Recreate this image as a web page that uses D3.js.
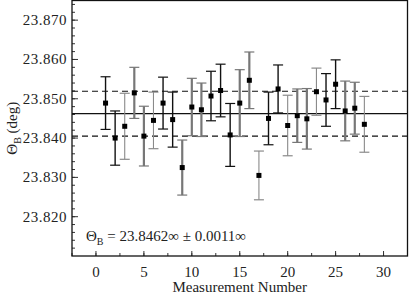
<!DOCTYPE html>
<html>
<head>
<meta charset="utf-8">
<script src="https://cdn.jsdelivr.net/npm/d3@7"></script>
<style>
  body { margin: 0; background: #fff; }
  svg { display: block; }
</style>
</head>
<body>
<div id="visu"></div>
<script>
var measurements = [1, 2, 3, 4, 5, 6, 7, 8, 9, 10, 11, 12, 13, 14, 15, 16, 17, 18, 19, 20, 21, 22, 23, 24, 25, 26, 27, 28];
var angles = [23.8489, 23.8400, 23.8430, 23.8515, 23.8405, 23.8445, 23.8489, 23.8447, 23.8325, 23.8479,
              23.8472, 23.8507, 23.8521, 23.8408, 23.8489, 23.8547, 23.8305, 23.8450, 23.8525, 23.8432,
              23.8457, 23.8449, 23.8518, 23.8497, 23.8537, 23.8469, 23.8476, 23.8435];
var errors = [0.0067, 0.0069, 0.0084, 0.0065, 0.0076, 0.0072, 0.0066, 0.0070, 0.0070, 0.0073,
              0.0068, 0.0063, 0.0067, 0.0080, 0.0085, 0.0072, 0.0062, 0.0067, 0.0061, 0.0077,
              0.0068, 0.0077, 0.0060, 0.0067, 0.0062, 0.0076, 0.0066, 0.0071];
// 0 = black, 1 = thick grey, 2 = thin grey
var groups = [0, 0, 2, 1, 1, 2, 0, 0, 1, 1, 1, 0, 0, 0, 1, 1, 2, 0, 0, 2, 1, 1, 2, 0, 0, 1, 1, 2];
var meanAngle = 23.8462, spread = 0.0057;
var xTicks = [0, 5, 10, 15, 20, 25, 30];
var yTicks = [23.820, 23.830, 23.840, 23.850, 23.860, 23.870];

var width = 409, height = 295;
var margin = {top: 0.5, right: 1.5, bottom: 39, left: 72};
var w = width - margin.left - margin.right,
    h = height - margin.top - margin.bottom;
var font = "'Liberation Serif', 'Times New Roman', 'DejaVu Serif', serif";

var svg = d3.select("#visu").append("svg")
    .attr("width", width)
    .attr("height", height)
    .attr("font-family", font)
    .style("font-family", font);
var g = svg.append("g")
    .attr("transform", "translate(" + margin.left + "," + margin.top + ")");

var x = d3.scaleLinear().domain([-2.5, 32.5]).range([0, w]);
var y = d3.scaleLinear().domain([23.810, 23.875]).range([h, 0]);

var data = measurements.map(function (m, i) {
    return { n: m, v: angles[i], e: errors[i], grp: groups[i] };
});

var strokeColor = ["#111", "#777", "#8a8a8a"];
var strokeWidth = [1.4, 2.2, 1.1];

// minor ticks
var yMinor = d3.range(23.812, 23.8751, 0.002);
g.selectAll(".ymin").data(yMinor).enter().append("line")
    .attr("x1", 0).attr("x2", 3)
    .attr("y1", d => y(d)).attr("y2", d => y(d))
    .attr("stroke", "#333");
g.selectAll(".ymaj").data(yTicks).enter().append("line")
    .attr("x1", 0).attr("x2", 6)
    .attr("y1", d => y(d)).attr("y2", d => y(d))
    .attr("stroke", "#333");
var xMinor = d3.range(-2.5, 32.6, 2.5);
g.selectAll(".xmin").data(xMinor).enter().append("line")
    .attr("x1", d => x(d)).attr("x2", d => x(d))
    .attr("y1", h).attr("y2", h - 3)
    .attr("stroke", "#333");
g.selectAll(".xmaj").data(xTicks).enter().append("line")
    .attr("x1", d => x(d)).attr("x2", d => x(d))
    .attr("y1", h).attr("y2", h - 5)
    .attr("stroke", "#333");

// tick labels
g.selectAll(".ylab").data(yTicks).enter().append("text")
    .attr("x", -5).attr("y", d => y(d) + 5)
    .attr("text-anchor", "end")
    .attr("fill", "#222")
    .style("font-size", "15px")
    .style("letter-spacing", "0.5px")
    .text(d => d3.format(".3f")(d));
g.selectAll(".xlab").data(xTicks).enter().append("text")
    .attr("x", d => x(d)).attr("y", h + 21)
    .attr("text-anchor", "middle")
    .attr("fill", "#222")
    .style("font-size", "15px")
    .text(d => d);

// reference lines
g.append("line")
    .attr("x1", 0).attr("x2", w)
    .attr("y1", y(meanAngle)).attr("y2", y(meanAngle))
    .attr("stroke", "#111").attr("stroke-width", 1.2);
[meanAngle + spread, meanAngle - spread].forEach(function (v) {
    g.append("line")
        .attr("x1", 0).attr("x2", w)
        .attr("y1", y(v)).attr("y2", y(v))
        .attr("stroke", "#111").attr("stroke-width", 1.1)
        .attr("stroke-dasharray", "6,4");
});

// error bars
var bars = g.selectAll(".err").data(data).enter().append("g")
    .attr("stroke", d => strokeColor[d.grp])
    .attr("stroke-width", d => strokeWidth[d.grp]);
bars.append("line")
    .attr("x1", d => x(d.n)).attr("x2", d => x(d.n))
    .attr("y1", d => y(d.v + d.e)).attr("y2", d => y(d.v - d.e));
bars.append("line")
    .attr("x1", d => x(d.n) - 5).attr("x2", d => x(d.n) + 5)
    .attr("y1", d => y(d.v + d.e)).attr("y2", d => y(d.v + d.e))
    .attr("stroke-width", 1.2);
bars.append("line")
    .attr("x1", d => x(d.n) - 5).attr("x2", d => x(d.n) + 5)
    .attr("y1", d => y(d.v - d.e)).attr("y2", d => y(d.v - d.e))
    .attr("stroke-width", 1.2);

g.selectAll(".pt").data(data).enter().append("rect")
    .attr("x", d => x(d.n) - 2.5).attr("y", d => y(d.v) - 2.5)
    .attr("width", 5).attr("height", 5)
    .attr("fill", "#000");

// frame
g.append("rect")
    .attr("x", 0).attr("y", 0).attr("width", w).attr("height", h)
    .attr("fill", "none").attr("stroke", "#111").attr("stroke-width", 1.3);

// annotation
var ann = g.append("text")
    .attr("x", 14).attr("y", h - 15)
    .attr("fill", "#222")
    .style("font-size", "15px");
ann.append("tspan").text("\u0398");
ann.append("tspan").attr("dy", 4).style("font-size", "10px").text("B");
ann.append("tspan").attr("dy", -4).text(" = 23.8462\u221e \u00b1 0.0011\u221e");

// axis titles
g.append("text")
    .attr("x", w / 2).attr("y", h + 36)
    .attr("text-anchor", "middle")
    .attr("fill", "#222")
    .style("font-size", "15px")
    .text("Measurement Number");
var yt = svg.append("text")
    .attr("transform", "translate(17," + (margin.top + h / 2) + ") rotate(-90)")
    .attr("text-anchor", "middle")
    .attr("fill", "#222")
    .style("font-size", "15px");
yt.append("tspan").text("\u0398");
yt.append("tspan").attr("dy", 4).style("font-size", "10px").text("B");
yt.append("tspan").attr("dy", -4).text(" (deg)");
</script>
</body>
</html>
